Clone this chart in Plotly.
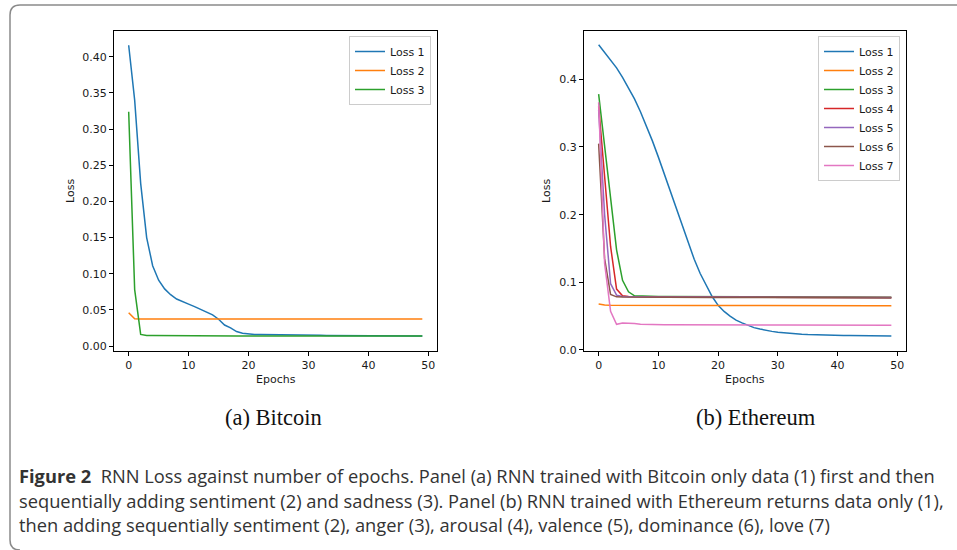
import plotly.graph_objects as go

W, H = 957, 550

# ---------------- data ----------------
epochs = list(range(50))

btc_loss1 = [0.416, 0.340, 0.225, 0.150, 0.111, 0.091, 0.079, 0.071, 0.065, 0.061,
             0.058, 0.0545, 0.051, 0.047, 0.043, 0.037, 0.029, 0.025, 0.020, 0.0178,
             0.0166, 0.0160, 0.0158, 0.0158, 0.0155, 0.0157, 0.0152, 0.0155, 0.0150, 0.0152,
             0.0150, 0.0148, 0.0149, 0.0147, 0.0146, 0.0147, 0.0145, 0.0145, 0.0144, 0.0145,
             0.0143, 0.0143, 0.0142, 0.0142, 0.0141, 0.0141, 0.0141, 0.0140, 0.0140, 0.0140]
btc_loss2 = [0.046, 0.0376, 0.0373, 0.0372, 0.0372, 0.0372, 0.0372, 0.0372, 0.0372, 0.0372,
             0.0372, 0.0372, 0.0372, 0.0372, 0.0372, 0.0372, 0.0372, 0.0372, 0.0372, 0.0372,
             0.0372, 0.0372, 0.0372, 0.0372, 0.0372, 0.0372, 0.0373, 0.0373, 0.0373, 0.0373,
             0.0373, 0.0373, 0.0373, 0.0373, 0.0373, 0.0373, 0.0374, 0.0374, 0.0374, 0.0374,
             0.0374, 0.0374, 0.0374, 0.0374, 0.0375, 0.0375, 0.0375, 0.0375, 0.0375, 0.0375]
btc_loss3 = [0.324, 0.078, 0.016, 0.0145, 0.0144, 0.0143, 0.0143, 0.0142, 0.0142, 0.0142,
             0.0141, 0.0141, 0.0141, 0.0141, 0.0140, 0.0140, 0.0140, 0.0140, 0.0140, 0.0140,
             0.0140, 0.0140, 0.0140, 0.0140, 0.0139, 0.0139, 0.0139, 0.0139, 0.0139, 0.0139,
             0.0139, 0.0139, 0.0139, 0.0139, 0.0139, 0.0139, 0.0139, 0.0139, 0.0138, 0.0138,
             0.0138, 0.0138, 0.0138, 0.0138, 0.0138, 0.0138, 0.0138, 0.0138, 0.0138, 0.0138]

eth_loss1 = [0.451, 0.440, 0.429, 0.417, 0.403, 0.388, 0.371, 0.352, 0.331, 0.309,
             0.285, 0.260, 0.234, 0.208, 0.182, 0.157, 0.134, 0.113, 0.095, 0.079,
             0.066, 0.057, 0.050, 0.044, 0.040, 0.036, 0.033, 0.031, 0.029, 0.0275,
             0.0262, 0.0252, 0.0245, 0.0238, 0.0233, 0.0228, 0.0224, 0.0221, 0.0219, 0.0217,
             0.0216, 0.0215, 0.0214, 0.0213, 0.0212, 0.0211, 0.0210, 0.0209, 0.0208, 0.0207]
eth_loss2 = [0.068, 0.0665, 0.0662, 0.0661, 0.0660, 0.0660, 0.0660, 0.0660, 0.0660, 0.0659,
             0.0660, 0.0659, 0.0659, 0.0659, 0.0658, 0.0659, 0.0658, 0.0658, 0.0658, 0.0660,
             0.0664, 0.0662, 0.0660, 0.0658, 0.0657, 0.0658, 0.0657, 0.0656, 0.0657, 0.0656,
             0.0656, 0.0656, 0.0655, 0.0656, 0.0655, 0.0655, 0.0655, 0.0654, 0.0655, 0.0654,
             0.0654, 0.0654, 0.0653, 0.0654, 0.0653, 0.0653, 0.0653, 0.0652, 0.0653, 0.0652]
eth_loss3 = [0.378, 0.300, 0.225, 0.148, 0.103, 0.086, 0.080, 0.0795, 0.0792, 0.0790,
             0.0790, 0.0790, 0.0789, 0.0789, 0.0789, 0.0788, 0.0788, 0.0788, 0.0788, 0.0787,
             0.0787, 0.0787, 0.0787, 0.0786, 0.0786, 0.0786, 0.0786, 0.0785, 0.0785, 0.0785,
             0.0785, 0.0784, 0.0784, 0.0784, 0.0784, 0.0783, 0.0783, 0.0783, 0.0783, 0.0782,
             0.0782, 0.0782, 0.0782, 0.0781, 0.0781, 0.0781, 0.0781, 0.0780, 0.0780, 0.0780]
eth_loss4 = [0.360, 0.260, 0.153, 0.090, 0.080, 0.0790, 0.0788, 0.0787, 0.0786, 0.0786,
             0.0785, 0.0785, 0.0785, 0.0784, 0.0784, 0.0784, 0.0783, 0.0783, 0.0783, 0.0783,
             0.0782, 0.0782, 0.0782, 0.0782, 0.0781, 0.0781, 0.0781, 0.0781, 0.0780, 0.0780,
             0.0780, 0.0780, 0.0779, 0.0779, 0.0779, 0.0779, 0.0778, 0.0778, 0.0778, 0.0778,
             0.0778, 0.0777, 0.0777, 0.0777, 0.0777, 0.0777, 0.0776, 0.0776, 0.0776, 0.0776]
eth_loss5 = [0.355, 0.200, 0.098, 0.081, 0.0790, 0.0787, 0.0786, 0.0785, 0.0785, 0.0784,
             0.0784, 0.0784, 0.0783, 0.0783, 0.0783, 0.0782, 0.0782, 0.0782, 0.0782, 0.0781,
             0.0781, 0.0781, 0.0781, 0.0780, 0.0780, 0.0780, 0.0780, 0.0779, 0.0779, 0.0779,
             0.0779, 0.0778, 0.0778, 0.0778, 0.0778, 0.0777, 0.0777, 0.0777, 0.0777, 0.0776,
             0.0776, 0.0776, 0.0776, 0.0775, 0.0775, 0.0775, 0.0775, 0.0775, 0.0774, 0.0774]
eth_loss6 = [0.305, 0.135, 0.082, 0.0785, 0.0782, 0.0781, 0.0780, 0.0780, 0.0780, 0.0779,
             0.0779, 0.0779, 0.0779, 0.0778, 0.0778, 0.0778, 0.0778, 0.0777, 0.0777, 0.0777,
             0.0777, 0.0776, 0.0776, 0.0776, 0.0776, 0.0775, 0.0775, 0.0775, 0.0775, 0.0774,
             0.0774, 0.0774, 0.0774, 0.0773, 0.0773, 0.0773, 0.0773, 0.0772, 0.0772, 0.0772,
             0.0772, 0.0771, 0.0771, 0.0771, 0.0771, 0.0770, 0.0770, 0.0770, 0.0770, 0.0770]
eth_loss7 = [0.366, 0.128, 0.057, 0.038, 0.0400, 0.0400, 0.0390, 0.0382, 0.0378, 0.0376,
             0.0375, 0.0374, 0.0374, 0.0373, 0.0373, 0.0373, 0.0372, 0.0372, 0.0372, 0.0372,
             0.0371, 0.0371, 0.0371, 0.0371, 0.0370, 0.0370, 0.0370, 0.0370, 0.0370, 0.0369,
             0.0369, 0.0369, 0.0369, 0.0369, 0.0368, 0.0368, 0.0368, 0.0368, 0.0368, 0.0367,
             0.0367, 0.0367, 0.0367, 0.0367, 0.0366, 0.0366, 0.0366, 0.0366, 0.0366, 0.0366]

btc_series = [("Loss 1", btc_loss1), ("Loss 2", btc_loss2), ("Loss 3", btc_loss3)]
eth_series = [("Loss 1", eth_loss1), ("Loss 2", eth_loss2), ("Loss 3", eth_loss3),
              ("Loss 4", eth_loss4), ("Loss 5", eth_loss5), ("Loss 6", eth_loss6),
              ("Loss 7", eth_loss7)]

x_ticks = [0, 10, 20, 30, 40, 50]
btc_y_ticks = [0.00, 0.05, 0.10, 0.15, 0.20, 0.25, 0.30, 0.35, 0.40]
eth_y_ticks = [0.0, 0.1, 0.2, 0.3, 0.4]

subcaptions = ["(a) Bitcoin", "(b) Ethereum"]
caption_lines = [
    "<b>Figure 2</b>  RNN Loss against number of epochs. Panel (a) RNN trained with Bitcoin only data (1) first and then",
    "sequentially adding sentiment (2) and sadness (3). Panel (b) RNN trained with Ethereum returns data only (1),",
    "then adding sequentially sentiment (2), anger (3), arousal (4), valence (5), dominance (6), love (7)",
]

colors = ["#1f77b4", "#ff7f0e", "#2ca02c", "#d62728", "#9467bd", "#8c564b", "#e377c2"]

# ---------------- layout helpers (pixels -> paper) ----------------
def px(x):
    return x / W

def py(y):
    return 1 - y / H

TICK_FONT = dict(family="DejaVu Sans", size=11, color="#1a1a1a")

fig = go.Figure()

for i, (name, vals) in enumerate(btc_series):
    fig.add_trace(go.Scatter(x=epochs, y=vals, mode="lines", name=name,
                             line=dict(color=colors[i], width=1.5),
                             xaxis="x", yaxis="y", legend="legend"))
for i, (name, vals) in enumerate(eth_series):
    fig.add_trace(go.Scatter(x=epochs, y=vals, mode="lines", name=name,
                             line=dict(color=colors[i], width=1.5),
                             xaxis="x2", yaxis="y2", legend="legend2"))

axis_common = dict(showgrid=False, zeroline=False, showline=True, mirror=True,
                   linecolor="#000", linewidth=1, ticks="outside", ticklen=4,
                   tickwidth=1, tickcolor="#000", tickfont=TICK_FONT, automargin=False)

fig.update_layout(
    width=W, height=H,
    margin=dict(l=0, r=0, t=0, b=0),
    paper_bgcolor="white", plot_bgcolor="white",
    xaxis=dict(domain=[px(114), px(437)], range=[-2.45, 51.45], tickvals=x_ticks,
               anchor="y", **axis_common),
    yaxis=dict(domain=[py(351), py(31)], range=[-0.0069, 0.4357], tickvals=btc_y_ticks,
               tickformat=".2f", anchor="x", **axis_common),
    xaxis2=dict(domain=[px(584), px(906)], range=[-2.45, 51.45], tickvals=x_ticks,
                anchor="y2", **axis_common),
    yaxis2=dict(domain=[py(351), py(31)], range=[-0.0015, 0.4714], tickvals=eth_y_ticks,
                tickformat=".1f", anchor="x2", **axis_common),
    legend=dict(x=px(431), y=py(36), xanchor="right", yanchor="top",
                bgcolor="white", bordercolor="#cccccc", borderwidth=1,
                font=dict(family="DejaVu Sans", size=11, color="#1a1a1a")),
    legend2=dict(x=px(900), y=py(36), xanchor="right", yanchor="top",
                 bgcolor="white", bordercolor="#cccccc", borderwidth=1,
                 font=dict(family="DejaVu Sans", size=11, color="#1a1a1a")),
    showlegend=True,
)

annotations = []
# axis labels
for cx in (275.5, 745):
    annotations.append(dict(text="Epochs", x=px(cx), y=py(379), xref="paper", yref="paper",
                            showarrow=False, xanchor="center", yanchor="middle",
                            font=dict(family="DejaVu Sans", size=11, color="#1a1a1a")))
for lx in (70, 546):
    annotations.append(dict(text="Loss", x=px(lx), y=py(191), xref="paper", yref="paper",
                            showarrow=False, xanchor="center", yanchor="middle", textangle=-90,
                            font=dict(family="DejaVu Sans", size=11, color="#1a1a1a")))
# subcaptions
for cx, txt in zip((273, 756), subcaptions):
    annotations.append(dict(text=txt, x=px(cx), y=py(417), xref="paper", yref="paper",
                            showarrow=False, xanchor="center", yanchor="middle",
                            font=dict(family="Liberation Serif", size=22.5, color="#111")))
# caption
for yy, txt in zip((475, 500, 524), caption_lines):
    annotations.append(dict(text=txt, x=px(17), y=py(yy), xref="paper", yref="paper",
                            showarrow=False, xanchor="left", yanchor="middle", align="left",
                            font=dict(family="Open Sans", size=18.3, color="#333")))
fig.update_layout(annotations=annotations)

# frame with rounded corners
fig.add_shape(type="path", xref="paper", yref="paper",
              path=(f"M {px(980)},{py(5)} L {px(20)},{py(5)} Q {px(10)},{py(5)} {px(10)},{py(15)} "
                    f"L {px(10)},{py(540)} Q {px(10)},{py(550)} {px(20)},{py(550)}"),
              line=dict(color="#8a8a8a", width=1.5))

fig.write_html("out.html", config={"displayModeBar": False},
               post_script="document.body.style.margin='0';document.body.style.overflow='hidden';")
